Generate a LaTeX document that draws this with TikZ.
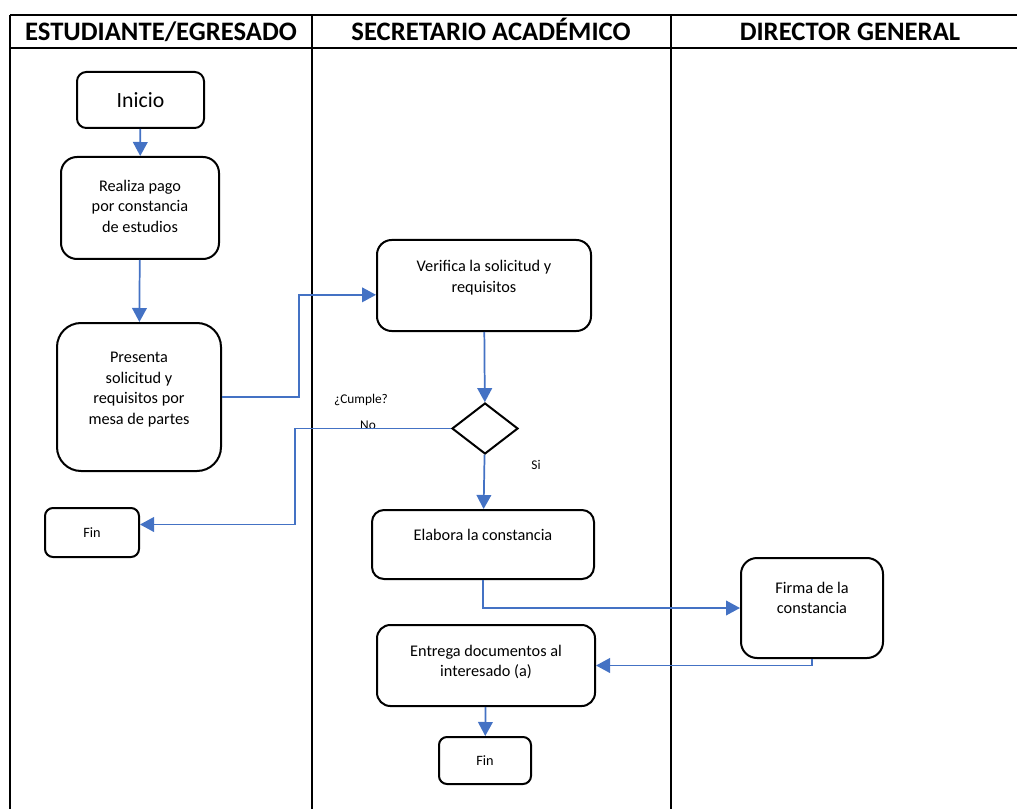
\documentclass[tikz,border=0pt]{standalone}
\usepackage{fontspec}
\setmainfont{Carlito}
\usetikzlibrary{arrows.meta,shapes.geometric}

\definecolor{azul}{HTML}{4472C4}

\begin{document}
\begin{tikzpicture}[x=0.75pt,y=-0.75pt,
  linea/.style={line width=1.5pt,black},
  caja/.style={draw,line width=1.5pt,rounded corners=#1,inner sep=0pt},
  texto/.style 2 args={label={[align=center,font=\fontsize{12.2}{15.4}\selectfont,yshift=#1]center:#2}},
  titulo/.style={font=\fontsize{20}{22}\selectfont\bfseries,anchor=base},
  etiqueta/.style={font=\fontsize{10}{12}\selectfont},
  flecha/.style={draw=azul,line width=1.3pt,-{Triangle[length=10.5pt,width=11pt]}}]
\useasboundingbox (0,0) rectangle (1017,809);

% table:
\draw[linea] (10,15) -- (1017,15);
\draw[linea] (10,48) -- (1017,48);
\draw[linea] (10,15) -- (10,809);
\draw[linea] (312,15) -- (312,809);
\draw[linea] (671,15) -- (671,809);
\node[titulo] (col1) at (161,41) {ESTUDIANTE/EGRESADO};
\node[titulo] (col2) at (491,41) {SECRETARIO ACADÉMICO};
\node[titulo] (col3) at (850,41) {DIRECTOR GENERAL};

% steps:
\node[caja=7pt,minimum width=95.25pt,minimum height=42pt,font=\fontsize{16.3}{19}\selectfont] (inicio) at (140.5,100) {Inicio};
\node[caja=12pt,minimum width=118.5pt,minimum height=76.5pt,texto={1.5pt}{Realiza pago\\por constancia\\de estudios}] (pago) at (140,208) {};
\node[caja=18pt,minimum width=123pt,minimum height=111pt,texto={5.5pt}{Presenta\\solicitud y\\requisitos por\\mesa de partes}] (presenta) at (139,397) {};
\node[caja=6pt,minimum width=70.5pt,minimum height=36.75pt,font=\fontsize{10.7}{12}\selectfont] (finA) at (92,532.5) {Fin};
\node[caja=11pt,minimum width=160.5pt,minimum height=68.25pt,texto={6pt}{Verifica la solicitud y\\requisitos}] (verifica) at (484,285.5) {};
\node[draw,diamond,line width=1.5pt,minimum width=49.5pt,minimum height=38.25pt,inner sep=0pt] (cumple) at (485,428.5) {};
\node[caja=9pt,minimum width=166.5pt,minimum height=51.75pt,texto={7.5pt}{Elabora la constancia}] (elabora) at (483,544.5) {};
\node[caja=12pt,minimum width=106.5pt,minimum height=75pt,texto={7.5pt}{Firma de la\\constancia}] (firma) at (812,608) {};
\node[caja=10pt,minimum width=163.5pt,minimum height=60.75pt,texto={2.5pt}{Entrega documentos al\\interesado (a)}] (entrega) at (486,665.5) {};
\node[caja=6pt,minimum width=69pt,minimum height=35.25pt,font=\fontsize{10.7}{12}\selectfont] (finB) at (485,760.5) {Fin};

% labels:
\node[etiqueta] (lcumple) at (361,400) {¿Cumple?};
\node[etiqueta] (lno) at (368,425) {No};
\node[etiqueta] (lsi) at (536,465) {Si};

% arrows:
\draw[flecha] (inicio) -- (pago);
\draw[flecha] (pago) -- (presenta);
\draw[flecha] (presenta.east) -- ++(77,0) |- ([yshift=-7pt]verifica.west);
\draw[flecha] (verifica) -- (cumple);
\draw[flecha] (cumple.west) -- ++(-156,0) |- ([yshift=6pt]finA.east);
\draw[flecha] (cumple) -- (elabora);
\draw[flecha] (elabora.south) |- (firma.west);
\draw[flecha] (firma.south) |- (entrega.east);
\draw[flecha] (entrega) -- (finB);

\end{tikzpicture}
\end{document}
